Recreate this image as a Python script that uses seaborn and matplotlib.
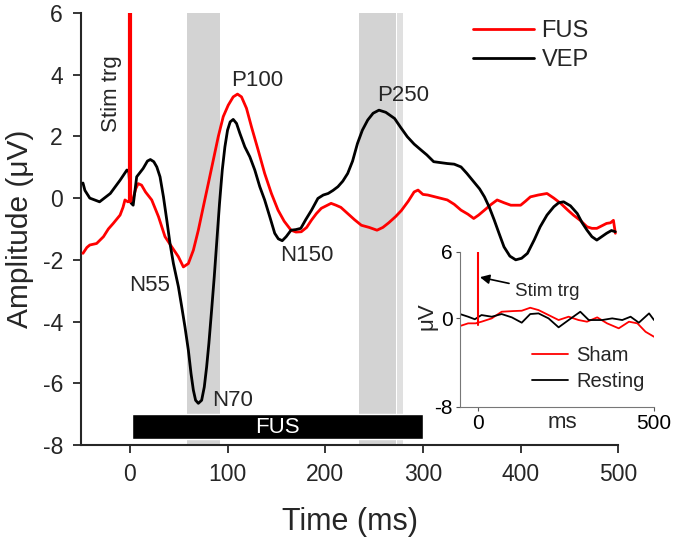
import numpy as np
import pandas as pd
import seaborn as sns
import matplotlib.pyplot as plt

# main traces
vep_t = [-48, -46, -41, -31, -20, -10, -3, -1, 1, 3.4, 7, 13.6, 18, 21, 24.5, 27.6, 30.9,
         34.4, 37.8, 41.1, 44.6, 49.7, 53.1, 56.4, 59.9, 62.6, 65, 67.3, 70.1, 73.5, 76.2,
         78.6, 80.9, 83.7, 86.4, 89.1, 91.8, 94.6, 97.3, 100, 102.7, 105.8, 109.2, 112.6,
         117.7, 122.8, 127.9, 133, 138, 143.2, 148.3, 152, 156, 160, 165, 170, 175, 180,
         186, 192.5, 198, 203, 208, 213, 218, 223, 228, 233, 238, 243.5, 249, 255, 262,
         271, 277, 284, 291, 298, 304, 311, 318, 325, 332, 339, 345, 352, 358, 363, 368,
         373, 378, 383, 389, 395, 401, 407, 414, 420, 427, 434, 439, 444, 451, 458, 463,
         468, 473, 478, 483, 488, 493, 497]
vep_amp = [0.49, 0.25, 0.0, -0.12, 0.15, 0.58, 0.91, 0.85, -0.15, -0.23, 0.69, 0.96, 1.2,
           1.25, 1.18, 1.01, 0.69, 0.04, -0.71, -1.47, -2.12, -2.87, -3.52, -4.17, -4.93,
           -5.68, -6.22, -6.55, -6.65, -6.55, -6.12, -5.47, -4.71, -3.63, -2.55, -1.36,
           -0.17, 0.91, 1.66, 2.2, 2.47, 2.55, 2.42, 2.1, 1.66, 1.34, 0.91, 0.37, -0.06,
           -0.6, -1.14, -1.32, -1.38, -1.25, -1.04, -1.02, -0.98, -0.7, -0.39, -0.01, 0.1,
           0.15, 0.25, 0.37, 0.55, 0.8, 1.2, 1.77, 2.2, 2.53, 2.75, 2.85, 2.78, 2.58, 2.3,
           1.99, 1.75, 1.56, 1.4, 1.18, 1.15, 1.12, 1.1, 1.01, 0.8, 0.53, 0.3, 0.04, -0.3,
           -0.71, -1.15, -1.58, -1.88, -2.0, -1.95, -1.79, -1.35, -0.93, -0.55, -0.28,
           -0.15, -0.12, -0.25, -0.5, -0.8, -1.04, -1.25, -1.36, -1.25, -1.14, -1.05, -1.09]

fus_t = [-48, -44, -41, -34, -27, -22, -17, -10, -7, -5, -2, 0, 3.4, 6, 8.5, 12, 16, 22.4,
         29.3, 36, 42.9, 49.7, 54.8, 59.9, 65, 70.1, 75.2, 80.3, 85.4, 90.5, 95.6, 100.7,
         105.8, 110.2, 114.3, 119.4, 124.5, 131.3, 138, 144.9, 151.7, 158, 165, 170, 175.5,
         181, 186, 191, 196, 201, 206, 211, 216, 223, 230, 237, 245, 253, 259, 265, 272,
         278, 285, 291, 295, 300, 305, 315, 325, 332, 339, 346, 352, 357, 363, 370, 376,
         383, 390, 400, 405, 410, 418, 427, 434, 441, 448, 454, 461, 468, 473, 478, 483,
         488, 492, 495, 497]
fus_amp = [-1.79, -1.6, -1.52, -1.47, -1.25, -1.0, -0.82, -0.55, -0.3, -0.06, -0.12, -0.1,
           -0.01, 0.3, 0.47, 0.42, 0.2, -0.06, -0.6, -1.25, -1.58, -1.9, -2.23, -2.12,
           -1.69, -1.04, -0.28, 0.47, 1.23, 1.99, 2.64, 3.01, 3.28, 3.37, 3.28, 2.91, 2.31,
           1.56, 0.8, 0.15, -0.39, -0.75, -1.04, -1.1, -1.09, -0.95, -0.71, -0.5, -0.33,
           -0.25, -0.17, -0.23, -0.3, -0.5, -0.7, -0.88, -0.95, -1.04, -0.95, -0.8, -0.6,
           -0.4, -0.1, 0.2, 0.26, 0.12, 0.1, 0.02, -0.06, -0.2, -0.39, -0.52, -0.66, -0.55,
           -0.39, -0.2, -0.06, -0.15, -0.23, -0.23, -0.1, 0.04, 0.1, 0.15, 0.0, -0.17,
           -0.38, -0.55, -0.72, -0.93, -0.98, -0.98, -0.9, -0.82, -0.8, -0.72, -1.14]

# inset traces
rest_t = [-50, -27, -8, 11, 40, 68, 97, 125, 149, 172.5, 201, 229.5, 258, 291, 315, 353,
          381.5, 410, 433.6, 457, 486, 500]
rest_amp = [0.37, 0.13, -0.1, 0.28, 0.13, 0.37, 0.07, -0.41, 0.37, 0.43, -0.02, -0.83,
            -0.17, 0.58, -0.17, -0.17, -0.02, -0.17, 0.13, -0.41, 0.43, -0.17]
sham_t = [-50, -27, -6, 11, 40, 68, 101, 125, 149, 172.5, 201, 229.5, 258, 286, 310, 339,
          367, 400, 429, 453, 476, 500]
sham_amp = [-0.71, -0.47, -0.47, -0.32, -0.02, 0.58, 0.64, 0.67, 0.94, 0.73, 0.28, -0.17,
            0.13, -0.17, -0.32, 0.07, -0.47, -0.92, -0.32, -0.47, -1.23, -1.68]

# stimulus trigger and shaded windows
stim_t = 0
stim_main = [-0.1, 6]
stim_inset = [-0.6, 6]
windows = [(59, 92), (235, 272), (273, 280)]
fus_bar = (2, 300)

sns.set_style("ticks")
plt.rcParams['font.family'] = ['Liberation Sans', 'DejaVu Sans']
plt.rcParams['axes.unicode_minus'] = False

fig = plt.figure(figsize=(6.75, 5.39), dpi=100)
ax = fig.add_axes([0.12, 0.1744, 0.796, 0.8016])

for i, (a, b) in enumerate(windows):
    ax.axvspan(a, b, color='#d3d3d3', lw=0, zorder=0, alpha=1 if i < 2 else 0.7)

ax.barh(-7.4, fus_bar[1] - fus_bar[0], left=fus_bar[0], height=0.8, color='black', zorder=3)
ax.text((fus_bar[0] + fus_bar[1]) / 2, -7.42, 'FUS', color='white', fontsize=16,
        ha='center', va='center', zorder=4)

main_df = pd.concat([
    pd.DataFrame({'t': fus_t, 'amp': fus_amp, 'cond': 'FUS'}),
    pd.DataFrame({'t': vep_t, 'amp': vep_amp, 'cond': 'VEP'}),
])
sns.lineplot(data=main_df, x='t', y='amp', hue='cond', palette={'FUS': 'red', 'VEP': 'black'},
             lw=2, sort=False, ax=ax, zorder=5)
ax.plot([stim_t, stim_t], stim_main, color='red', lw=3, zorder=6)

ax.set_xlim(-50, 500)
ax.set_ylim(-8, 6)
ax.set_xticks(range(0, 501, 100))
ax.set_yticks(range(-8, 7, 2))
ax.tick_params(labelsize=16.5, length=6, width=1.3, pad=7, direction='out')
for s in ['left', 'bottom']:
    ax.spines[s].set_linewidth(1.5)
sns.despine(ax=ax)

ax.set_xlabel('Time (ms)', fontsize=22)
ax.set_ylabel('Amplitude (μV)', fontsize=21.5)
ax.xaxis.set_label_coords(0.5, -0.143)
ax.yaxis.set_label_coords(-0.087, 0.5)

ax.text(-18.4, 3.4, 'Stim trg', rotation=90, fontsize=16, ha='center', va='center')
ax.text(130, 3.8, 'P100', fontsize=16, ha='center', va='center')
ax.text(181, -1.85, 'N150', fontsize=16, ha='center', va='center')
ax.text(20, -2.82, 'N55', fontsize=16, ha='center', va='center')
ax.text(84, -6.55, 'N70', fontsize=16, ha='left', va='center')
ax.text(280, 3.34, 'P250', fontsize=16, ha='center', va='center')

ax.legend(loc='upper left', bbox_to_anchor=(473 / 675, 1 - 20 / 539),
          bbox_transform=fig.transFigure, frameon=False, fontsize=17, borderpad=0,
          borderaxespad=0, handlelength=2.6, handletextpad=0.3, labelspacing=0.3)

# inset
ax_in = fig.add_axes([0.6815, 0.2454, 0.2874, 0.2876])
ax_in.patch.set_visible(False)
inset_df = pd.concat([
    pd.DataFrame({'t': sham_t, 'amp': sham_amp, 'cond': 'Sham'}),
    pd.DataFrame({'t': rest_t, 'amp': rest_amp, 'cond': 'Resting'}),
])
sns.lineplot(data=inset_df, x='t', y='amp', hue='cond',
             palette={'Sham': 'red', 'Resting': 'black'}, lw=1.3, sort=False, ax=ax_in)
ax_in.plot([stim_t, stim_t], stim_inset, color='red', lw=1.5)
ax_in.set_xlim(-50, 500)
ax_in.set_ylim(-8, 6)
ax_in.set_xticks([0, 500])
ax_in.set_yticks([-8, 0, 6])
ax_in.tick_params(labelsize=15, length=3, width=0.8, pad=2, colors='#555555',
                  labelcolor='black')
for s in ['left', 'bottom']:
    ax_in.spines[s].set_linewidth(0.8)
    ax_in.spines[s].set_color('#777777')
sns.despine(ax=ax_in)
ax_in.set_xlabel('ms', fontsize=16)
ax_in.set_ylabel('μV', fontsize=16)
ax_in.xaxis.set_label_coords(0.53, -0.035)
ax_in.yaxis.set_label_coords(-0.115, 0.585)
ax_in.annotate('Stim trg', xy=(6.5, 3.7), xytext=(106, 2.4), fontsize=13.5,
               ha='left', va='center',
               arrowprops=dict(arrowstyle='-|>', color='black', lw=1.2,
                               mutation_scale=14, shrinkA=2, shrinkB=0))
ax_in.legend(loc='upper left', bbox_to_anchor=(532 / 675, 1 - 346 / 539),
             bbox_transform=fig.transFigure, frameon=False, fontsize=14.5, borderpad=0,
             borderaxespad=0, handlelength=1.8, handletextpad=0.4, labelspacing=0.35)

fig.savefig('out.png', dpi=100)
